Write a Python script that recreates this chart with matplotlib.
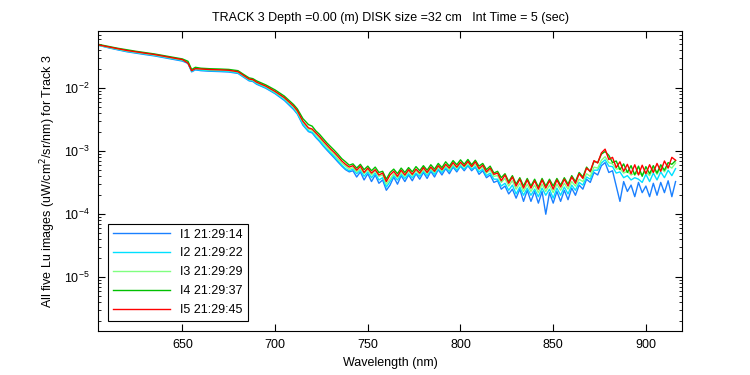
import numpy as np
import matplotlib
matplotlib.use('Agg')
import matplotlib.pyplot as plt

plt.rcParams['font.family'] = ['Liberation Sans', 'DejaVu Sans']

# wavelength grid (nm)
wl = [605, 610, 615, 620, 625, 630, 635, 640, 645, 650, 653, 655, 657, 660, 665,
      670, 675, 680, 683, 686, 688, 690, 695, 700, 705, 710, 712, 715, 718, 720,
      722, 724, 726, 728, 730, 732, 734, 736, 738, 740,
      742, 744, 746, 748, 750, 752, 754, 756, 758, 760,
      762, 764, 766, 768, 770, 772, 774, 776, 778, 780,
      782, 784, 786, 788, 790, 792, 794, 796, 798, 800,
      802, 804, 806, 808, 810, 812, 814, 816, 818, 820,
      822, 824, 826, 828, 830, 832, 834, 836, 838, 840,
      842, 844, 846, 848, 850, 852, 854, 856, 858, 860,
      862, 864, 866, 868, 870, 872, 874, 876, 878, 880,
      882, 884, 886, 888, 890, 892, 894, 896, 898, 900,
      902, 904, 906, 908, 910, 912, 914, 916]

# Lu values in units of 1e-4 uW/cm^2/sr/nm
lu1 = [480, 440, 408, 380, 360, 342, 326, 306, 288, 270, 248, 182, 196, 190, 186,
       184, 181, 172, 150, 131, 128, 116, 100, 82, 64, 46, 39, 26, 20.5, 19.5,
       16.5, 14.3, 12.1, 10.4, 9.0, 7.8, 6.7, 5.8, 5.1, 4.7,
       4.9, 3.9, 4.7, 3.5, 4.4, 3.3, 4.2, 3.1, 3.5, 2.4,
       2.9, 3.9, 3.0, 4.1, 3.3, 4.2, 3.4, 4.4, 3.6, 4.6,
       3.7, 4.8, 3.9, 5.1, 4.2, 5.3, 4.4, 5.6, 4.7, 5.8,
       4.9, 5.9, 4.9, 5.6, 4.3, 4.9, 3.8, 4.2, 3.2, 3.4,
       2.5, 2.8, 2.1, 2.5, 1.8, 2.5, 1.6, 2.4, 1.6, 2.3,
       1.5, 2.3, 1.0, 2.2, 1.5, 2.3, 1.6, 2.4, 1.7, 2.6,
       2.0, 2.9, 2.5, 3.6, 3.2, 4.6, 4.2, 5.9, 6.6, 4.6,
       4.9, 2.8, 1.6, 3.3, 2.3, 2.9, 1.9, 3.2, 2.2, 2.8,
       1.9, 3.1, 2.0, 3.2, 2.2, 3.4, 1.9, 3.3]
lu2 = [478, 444, 414, 386, 367, 349, 332, 312, 293, 276, 253, 185, 199, 194, 190,
       188, 185, 175, 153, 134, 131, 119, 102, 84, 66, 48, 40, 27, 21, 20,
       17, 14.8, 12.5, 10.8, 9.4, 8.2, 7.0, 6.0, 5.3, 4.9,
       5.2, 4.4, 5.0, 4.0, 4.7, 3.8, 4.5, 3.5, 3.8, 2.7,
       3.3, 4.1, 3.5, 4.3, 3.7, 4.4, 3.8, 4.5, 4.0, 4.8,
       4.1, 5.0, 4.3, 5.2, 4.6, 5.5, 4.8, 5.8, 5.0, 5.9,
       5.2, 6.0, 5.2, 5.7, 4.7, 5.2, 4.1, 4.5, 3.6, 3.6,
       2.8, 3.1, 2.4, 2.9, 2.1, 2.7, 2.0, 2.6, 2.0, 2.5,
       1.9, 2.6, 2.0, 2.5, 1.8, 2.6, 2.0, 2.7, 2.1, 2.9,
       2.4, 3.2, 2.9, 3.9, 3.6, 5.0, 5.0, 6.5, 7.3, 5.8,
       5.7, 4.5, 4.7, 3.8, 4.1, 3.5, 3.8, 3.6, 3.2, 4.3,
       3.3, 4.5, 3.5, 4.7, 3.8, 5.0, 4.1, 5.3]
lu3 = [482, 450, 420, 394, 374, 356, 339, 319, 300, 282, 259, 190, 205, 200, 196,
       194, 191, 181, 158, 138, 135, 123, 106, 87, 69, 50, 42, 29, 22.5, 21.5,
       18.5, 16, 13.5, 11.6, 10.0, 8.8, 7.5, 6.5, 5.8, 5.2,
       5.5, 4.7, 5.3, 4.4, 5.1, 4.2, 4.9, 4.0, 4.2, 3.0,
       3.6, 4.4, 3.8, 4.6, 4.0, 4.8, 4.1, 4.9, 4.3, 5.1,
       4.4, 5.3, 4.6, 5.6, 4.9, 5.8, 5.1, 6.1, 5.4, 6.3,
       5.6, 6.4, 5.6, 6.2, 5.1, 5.6, 4.5, 5.0, 4.0, 4.1,
       3.2, 3.7, 2.8, 3.4, 2.5, 3.1, 2.3, 3.0, 2.3, 2.9,
       2.2, 3.0, 2.3, 2.9, 2.2, 3.0, 2.4, 3.1, 2.5, 3.3,
       2.8, 3.6, 3.3, 4.4, 4.0, 5.6, 5.4, 7.2, 8.2, 6.6,
       6.3, 5.2, 5.3, 4.5, 4.8, 4.2, 4.5, 4.4, 4.3, 4.7,
       4.1, 5.4, 4.3, 5.6, 4.7, 5.9, 5.4, 6.5]
lu4 = [495, 462, 432, 408, 386, 368, 350, 330, 310, 292, 268, 198, 215, 208, 204,
       202, 199, 190, 166, 146, 142, 131, 113, 94, 75, 55, 47, 33, 26.5, 25,
       21, 18.5, 15.8, 13.5, 11.8, 10.3, 8.9, 7.6, 6.8, 6.0,
       6.3, 5.4, 6.2, 5.1, 5.8, 4.9, 5.6, 4.6, 4.8, 3.6,
       4.6, 5.2, 4.4, 5.4, 4.6, 5.5, 4.7, 5.7, 4.9, 5.9,
       5.0, 6.1, 5.2, 6.4, 5.5, 6.8, 5.8, 7.1, 6.1, 7.3,
       6.2, 7.4, 6.1, 7.2, 5.8, 6.4, 5.1, 5.8, 4.5, 4.8,
       3.8, 4.4, 3.3, 4.1, 3.0, 3.8, 2.8, 3.7, 2.8, 3.6,
       2.7, 3.7, 2.8, 3.6, 2.8, 3.7, 2.9, 3.8, 3.0, 4.1,
       3.3, 4.6, 3.9, 5.6, 4.7, 6.9, 6.6, 9.0, 9.9, 8.6,
       6.6, 7.0, 5.1, 6.3, 4.6, 5.9, 4.2, 5.8, 4.0, 5.7,
       4.4, 5.9, 4.5, 6.1, 5.0, 6.6, 6.2, 7.1]
lu5 = [486, 455, 425, 398, 378, 360, 343, 323, 303, 285, 250, 190, 205, 202, 198,
       196, 193, 183, 160, 140, 137, 125, 108, 89, 71, 52, 44, 30, 23.5, 22.5,
       19.5, 17, 14.5, 12.5, 10.8, 9.5, 8.2, 7.0, 6.2, 5.6,
       5.9, 5.0, 5.8, 4.6, 5.4, 4.5, 5.1, 4.2, 4.5, 3.3,
       4.2, 4.8, 4.0, 5.0, 4.2, 5.1, 4.3, 5.2, 4.5, 5.5,
       4.6, 5.6, 4.8, 5.9, 5.1, 6.2, 5.4, 6.6, 5.6, 6.7,
       5.8, 6.9, 5.7, 6.8, 5.3, 6.0, 4.7, 5.4, 4.3, 4.5,
       3.4, 4.2, 3.1, 3.9, 2.8, 3.6, 2.6, 3.5, 2.6, 3.4,
       2.5, 3.5, 2.6, 3.4, 2.5, 3.5, 2.7, 3.6, 2.8, 3.9,
       3.1, 4.4, 3.7, 5.4, 4.8, 7.1, 6.5, 9.4, 10.8, 7.4,
       8.0, 5.5, 6.8, 4.8, 6.2, 4.4, 6.1, 4.2, 6.0, 4.4,
       6.1, 4.6, 6.4, 4.8, 7.0, 5.4, 8.0, 7.2]

labels = ['I1 21:29:14', 'I2 21:29:22', 'I3 21:29:29', 'I4 21:29:37', 'I5 21:29:45']
colors = ['#1a80ff', '#00e0ff', '#80ff80', '#00c000', '#ff0000']

fig = plt.figure(figsize=(7.5, 3.75), dpi=100)
ax = fig.add_axes([0.1307, 0.1173, 0.7787, 0.8])

for serie, lab, col in zip([lu1, lu2, lu3, lu4, lu5], labels, colors):
    ax.semilogy(wl, np.array(serie) * 1e-4, color=col, lw=1.0, label=lab)

ax.set_xlim(604.5, 919.5)
ax.set_ylim(1.4e-6, 0.081)
ax.set_xticks([650, 700, 750, 800, 850, 900])
ax.tick_params(which='both', direction='in', top=True, right=True, labelsize=9)
ax.tick_params(which='major', length=5, pad=6)
ax.tick_params(which='minor', length=2.5)
ax.tick_params(axis='x', which='minor', bottom=False, top=False)
for s in ax.spines.values():
    s.set_linewidth(0.8)

ax.set_title('TRACK 3 Depth =0.00 (m) DISK size =32 cm   Int Time = 5 (sec)', fontsize=9, pad=7)
ax.set_xlabel('Wavelength (nm)', fontsize=9)
ax.set_ylabel('All five Lu images (uW/cm$^2$/sr/nm) for Track 3', fontsize=9)

leg = ax.legend(loc='lower left', bbox_to_anchor=(0.017, 0.033), borderaxespad=0,
                fancybox=False, edgecolor='black', framealpha=1, fontsize=9,
                handlelength=4.6, labelspacing=0.55)
leg.get_frame().set_linewidth(0.8)

plt.savefig('out.png', dpi=100)
plt.close()
